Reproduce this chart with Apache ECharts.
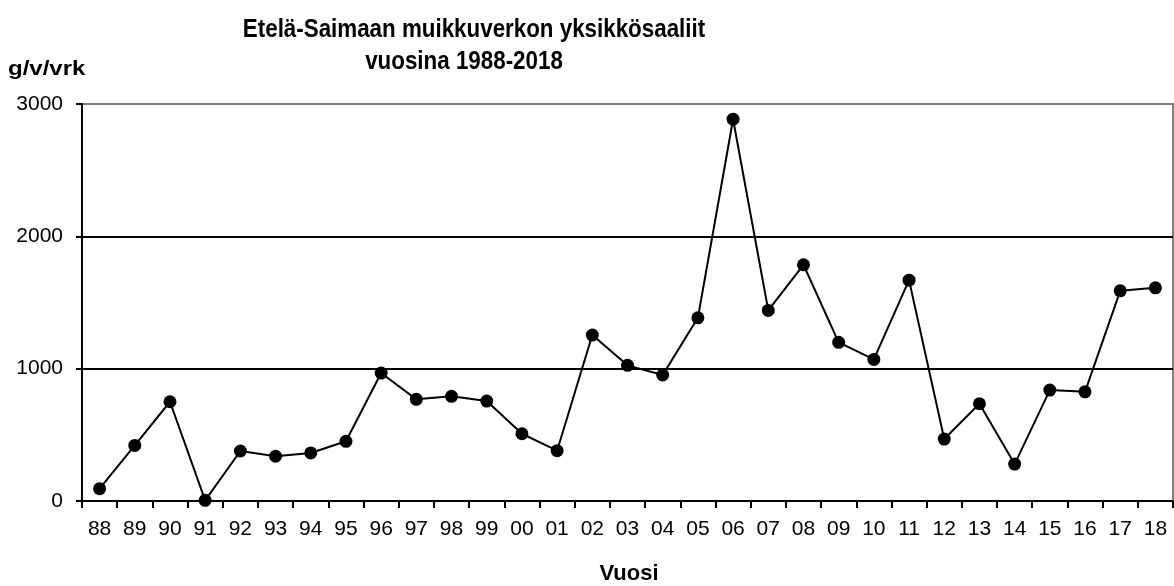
<!DOCTYPE html>
<html>
<head>
<meta charset="utf-8">
<script src="https://cdn.jsdelivr.net/npm/echarts@6/dist/echarts.min.js"></script>
<style>html,body{margin:0;padding:0;background:#fff}#c{width:1174px;height:586px}</style>
</head>
<body>
<div id="c"></div>
<script>
const titleLine1 = 'Etelä-Saimaan muikkuverkon yksikkösaaliit';
const titleLine2 = 'vuosina 1988-2018';
const yAxisName = 'g/v/vrk';
const xAxisName = 'Vuosi';
const years = ['88','89','90','91','92','93','94','95','96','97','98','99','00','01','02','03','04','05','06','07','08','09','10','11','12','13','14','15','16','17','18'];
const catch_g = [93,420,750,5,378,338,363,451,967,768,791,755,508,380,1254,1025,952,1384,2885,1440,1785,1199,1070,1669,468,735,279,838,825,1588,1611];
const yTicks = [0,1000,2000,3000];

const chart = echarts.init(document.getElementById('c'), null, {renderer:'canvas'});
const font = 'Liberation Sans, Arial, sans-serif';
chart.setOption({
  animation:false,
  backgroundColor:'#fff',
  graphic:[{
    type:'text', x:474, y:30, scaleX:0.86,
    style:{text:titleLine1, font:'bold 26px Liberation Sans, Arial, sans-serif', fill:'#000', align:'center', verticalAlign:'middle'}
  },{
    type:'text', x:464, y:62, scaleX:0.86,
    style:{text:titleLine2, font:'bold 26px Liberation Sans, Arial, sans-serif', fill:'#000', align:'center', verticalAlign:'middle'}
  },{
    type:'text', x:8, y:69, scaleX:1.2,
    style:{text:yAxisName, font:'bold 20px Liberation Sans, Arial, sans-serif', fill:'#000', align:'left', verticalAlign:'middle'}
  },{
    type:'text', x:629, y:574,
    style:{text:xAxisName, font:'bold 22px Liberation Sans, Arial, sans-serif', fill:'#000', align:'center', verticalAlign:'middle'}
  }],
  grid:{left:82, right:1, top:104, bottom:85, show:true, borderColor:'#808080', borderWidth:2},
  xAxis:{
    type:'category', data:years, boundaryGap:true,
    axisLine:{lineStyle:{color:'#000', width:2}},
    axisTick:{show:true, length:7, inside:false, alignWithLabel:false, lineStyle:{color:'#000', width:2}},
    axisLabel:{color:'#000', fontFamily:font, fontSize:21, margin:18, interval:0}
  },
  yAxis:{
    type:'value', min:0, max:3000, interval:1000,
    axisLine:{show:true, lineStyle:{color:'#000', width:2}},
    axisTick:{show:true, length:6, lineStyle:{color:'#000', width:2}},
    axisLabel:{color:'#000', fontFamily:font, fontSize:21, margin:19,
      formatter: v => String(v)},
    splitLine:{show:true, showMaxLine:false, lineStyle:{color:'#000', width:2}}
  },
  series:[{
    type:'line', data:catch_g,
    symbol:'circle', symbolSize:13,
    lineStyle:{color:'#000', width:2},
    itemStyle:{color:'#000'}
  }]
});
</script>
</body>
</html>
